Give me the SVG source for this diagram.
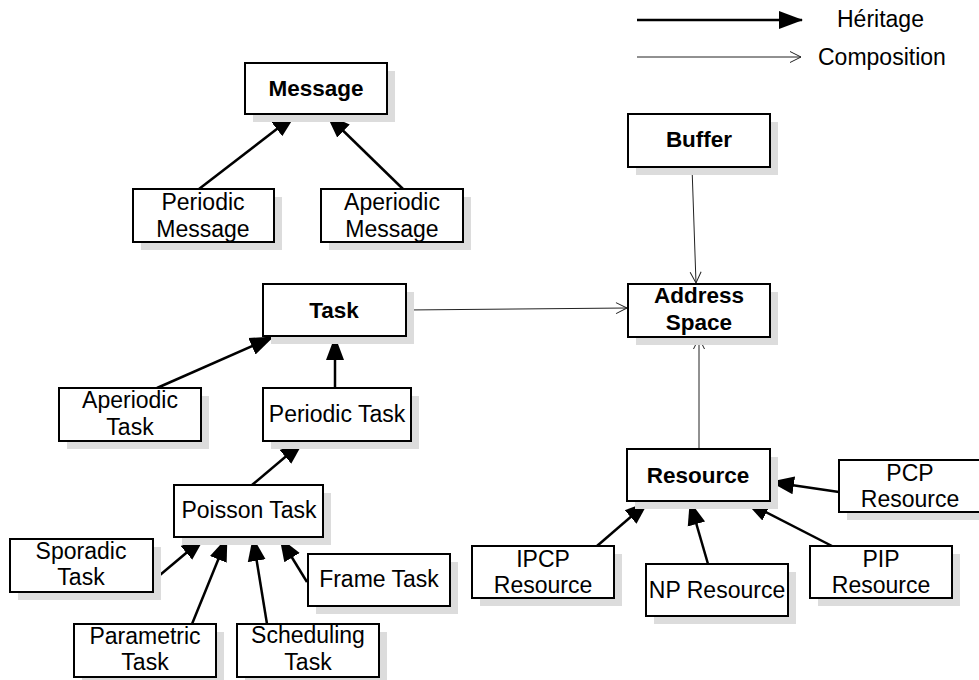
<svg xmlns="http://www.w3.org/2000/svg" width="979" height="680" viewBox="0 0 979 680">
  <style>
    .box { fill: #ffffff; stroke: #000000; stroke-width: 2; }
    .shadow { fill: #dcdcdc; }
    text { font-family: "Liberation Sans", Arial, sans-serif; font-size: 23px; fill: #000000; text-anchor: middle; }
    .b { font-weight: bold; font-size: 22.5px; }
    .inh { stroke: #000000; stroke-width: 2.5; fill: none; marker-end: url(#tri); }
    .comp { stroke: #222222; stroke-width: 1; fill: none; marker-end: url(#open); }
    .legend { text-anchor: start; }
  </style>
  <defs>
    <marker id="tri" markerUnits="userSpaceOnUse" viewBox="0 0 24 20" markerWidth="24" markerHeight="20" refX="23" refY="10" orient="auto">
      <path d="M0,1 L24,10 L0,19 z" fill="#000000"/>
    </marker>
    <marker id="open" markerUnits="userSpaceOnUse" viewBox="0 0 14 14" markerWidth="14" markerHeight="14" refX="12" refY="7" orient="auto">
      <path d="M1,1.5 L12,7 L1,12.5" fill="none" stroke="#222222" stroke-width="1"/>
    </marker>
  </defs>
  <rect width="979" height="680" fill="#ffffff"/>

  <!-- legend -->
  <g id="legend">
    <line x1="637" y1="20" x2="802" y2="20" class="inh" stroke-width="3"/>
    <text x="837" y="27" class="legend">Héritage</text>
    <line x1="637" y1="57" x2="801" y2="57" class="comp"/>
    <text x="818" y="65" class="legend">Composition</text>
  </g>

  <!-- connectors -->
  <g id="connectors">
    <line x1="199" y1="189" x2="295" y2="115" class="inh"/>
    <line x1="403" y1="189" x2="327" y2="115" class="inh"/>
    <line x1="157" y1="388" x2="273" y2="337" class="inh"/>
    <line x1="335" y1="388" x2="335" y2="337" class="inh"/>
    <line x1="252" y1="485" x2="303" y2="442" class="inh"/>
    <line x1="154" y1="580" x2="204" y2="538" class="inh"/>
    <line x1="192" y1="624" x2="227" y2="538" class="inh"/>
    <line x1="267" y1="624" x2="253" y2="538" class="inh"/>
    <line x1="307" y1="582" x2="280" y2="538" class="inh"/>
    <line x1="597" y1="546" x2="648" y2="502" class="inh"/>
    <line x1="708" y1="564" x2="690" y2="502" class="inh"/>
    <line x1="832" y1="546" x2="746" y2="502" class="inh"/>
    <line x1="839" y1="492" x2="771" y2="482" class="inh"/>
    <line x1="406" y1="310" x2="627" y2="308" class="comp"/>
    <line x1="692" y1="167" x2="696" y2="283" class="comp"/>
    <line x1="699" y1="449" x2="699" y2="338" class="comp"/>
  </g>

  <!-- nodes -->
  <g id="message">
    <rect x="253" y="71" width="142" height="51" class="shadow"/>
    <rect x="245" y="63" width="142" height="51" class="box"/>
    <text x="316" y="96" class="b">Message</text>
  </g>
  <g id="periodic-message">
    <rect x="141" y="197" width="141" height="53" class="shadow"/>
    <rect x="133" y="189" width="141" height="53" class="box"/>
    <text x="203" y="210">Periodic</text>
    <text x="203" y="237">Message</text>
  </g>
  <g id="aperiodic-message">
    <rect x="329" y="197" width="142" height="53" class="shadow"/>
    <rect x="321" y="189" width="142" height="53" class="box"/>
    <text x="392" y="210">Aperiodic</text>
    <text x="392" y="237">Message</text>
  </g>
  <g id="buffer">
    <rect x="636" y="122" width="142" height="53" class="shadow"/>
    <rect x="628" y="114" width="142" height="53" class="box"/>
    <text x="699" y="147" class="b">Buffer</text>
  </g>
  <g id="task">
    <rect x="271" y="292" width="143" height="52" class="shadow"/>
    <rect x="263" y="284" width="143" height="52" class="box"/>
    <text x="334" y="318" class="b">Task</text>
  </g>
  <g id="address-space">
    <rect x="636" y="292" width="142" height="53" class="shadow"/>
    <rect x="628" y="284" width="142" height="53" class="box"/>
    <text x="699" y="303" class="b">Address</text>
    <text x="699" y="330" class="b">Space</text>
  </g>
  <g id="aperiodic-task">
    <rect x="67" y="396" width="142" height="53" class="shadow"/>
    <rect x="59" y="388" width="142" height="53" class="box"/>
    <text x="130" y="408">Aperiodic</text>
    <text x="130" y="435">Task</text>
  </g>
  <g id="periodic-task">
    <rect x="271" y="396" width="148" height="53" class="shadow"/>
    <rect x="263" y="388" width="148" height="53" class="box"/>
    <text x="337" y="422">Periodic Task</text>
  </g>
  <g id="poisson-task">
    <rect x="182" y="493" width="149" height="52" class="shadow"/>
    <rect x="174" y="485" width="149" height="52" class="box"/>
    <text x="249" y="518">Poisson Task</text>
  </g>
  <g id="sporadic-task">
    <rect x="18" y="547" width="143" height="53" class="shadow"/>
    <rect x="10" y="539" width="143" height="53" class="box"/>
    <text x="81" y="559">Sporadic</text>
    <text x="81" y="585">Task</text>
  </g>
  <g id="frame-task">
    <rect x="316" y="562" width="142" height="52" class="shadow"/>
    <rect x="308" y="554" width="142" height="52" class="box"/>
    <text x="379" y="587">Frame Task</text>
  </g>
  <g id="parametric-task">
    <rect x="82" y="632" width="142" height="53" class="shadow"/>
    <rect x="74" y="624" width="142" height="53" class="box"/>
    <text x="145" y="644">Parametric</text>
    <text x="145" y="670">Task</text>
  </g>
  <g id="scheduling-task">
    <rect x="245" y="632" width="142" height="53" class="shadow"/>
    <rect x="237" y="624" width="142" height="53" class="box"/>
    <text x="308" y="643">Scheduling</text>
    <text x="308" y="670">Task</text>
  </g>
  <g id="resource">
    <rect x="635" y="457" width="143" height="52" class="shadow"/>
    <rect x="627" y="449" width="143" height="52" class="box"/>
    <text x="698" y="483" class="b">Resource</text>
  </g>
  <g id="pcp-resource">
    <rect x="847" y="468" width="142" height="52" class="shadow"/>
    <rect x="839" y="460" width="142" height="52" class="box"/>
    <text x="910" y="481">PCP</text>
    <text x="910" y="507">Resource</text>
  </g>
  <g id="ipcp-resource">
    <rect x="480" y="554" width="142" height="52" class="shadow"/>
    <rect x="472" y="546" width="142" height="52" class="box"/>
    <text x="543" y="567">IPCP</text>
    <text x="543" y="593">Resource</text>
  </g>
  <g id="np-resource">
    <rect x="654" y="572" width="142" height="52" class="shadow"/>
    <rect x="646" y="564" width="142" height="52" class="box"/>
    <text x="717" y="598">NP Resource</text>
  </g>
  <g id="pip-resource">
    <rect x="818" y="554" width="142" height="52" class="shadow"/>
    <rect x="810" y="546" width="142" height="52" class="box"/>
    <text x="881" y="567">PIP</text>
    <text x="881" y="593">Resource</text>
  </g>
</svg>
